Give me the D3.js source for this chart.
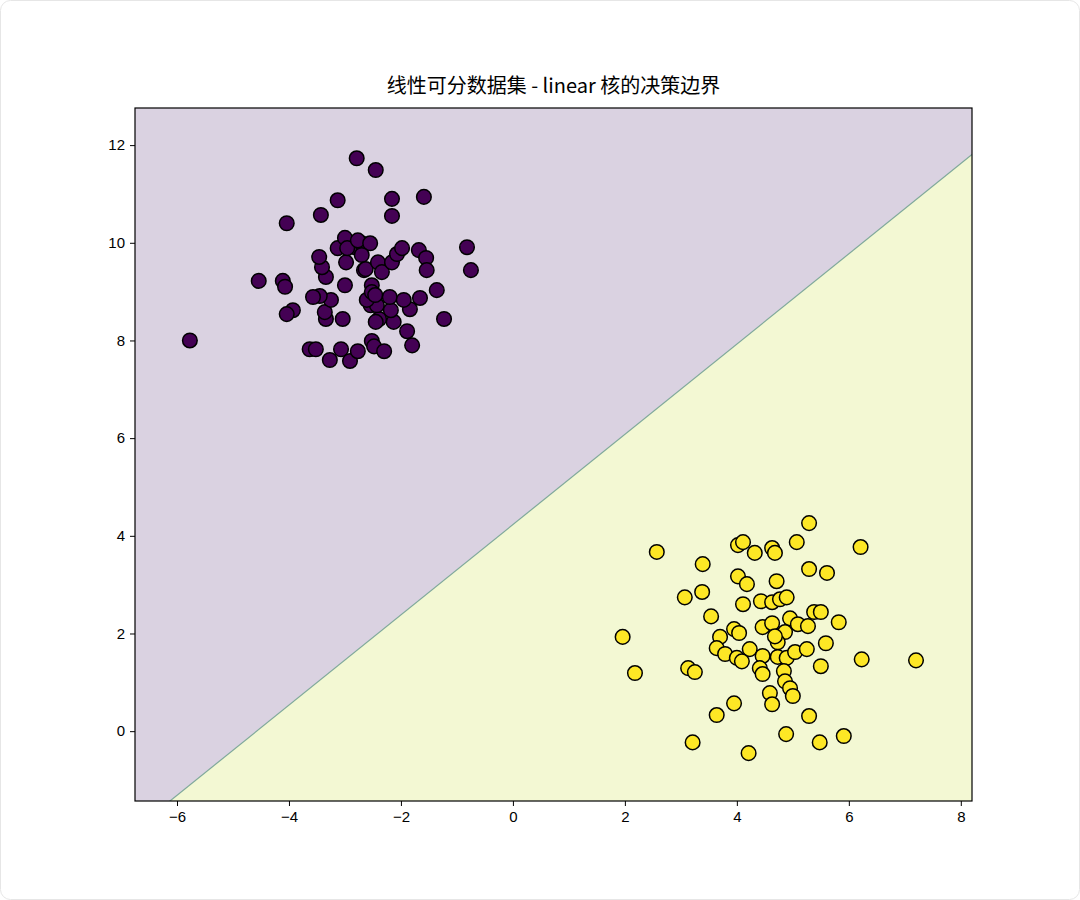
<!DOCTYPE html>
<html><head><meta charset="utf-8">
<script src="https://cdn.jsdelivr.net/npm/d3@7"></script>
<style>body{margin:0;background:#fff}svg{display:block}</style>
</head><body><svg id="c"></svg>
<script>
const classA = [[-5.77,8.0],[-2.79,11.73],[-2.45,11.49],[-3.13,10.87],[-3.43,10.57],[-4.04,10.40],[-2.16,10.9],[-1.59,10.94],[-2.16,10.55],[-0.82,9.91],[-0.75,9.44],[-4.54,9.22],[-4.11,9.22],[-4.07,9.1],[-3.93,8.62],[-4.04,8.54],[-1.36,9.03],[-1.23,8.44],[-1.84,8.64],[-1.66,8.87],[-1.89,8.19],[-1.8,7.9],[-3.63,7.82],[-3.52,7.82],[-3.27,7.6],[-3.07,7.82],[-2.91,7.58],[-2.77,7.78],[-2.52,7.99],[-2.48,7.88],[-2.3,7.78],[-2.13,8.38],[-2.18,8.62],[-2.39,8.44],[-2.45,8.38],[-2.54,8.72],[-2.43,8.72],[-2.61,8.83],[-2.2,8.89],[-1.95,8.83],[-3.34,8.44],[-3.36,8.58],[-3.04,8.44],[-3.25,8.83],[-3.45,8.91],[-3.57,8.89],[-3.34,9.3],[-3.41,9.5],[-3.46,9.71],[-3.0,9.13],[-2.52,9.13],[-2.98,9.6],[-3.13,9.89],[-2.82,9.91],[-3.0,10.1],[-2.96,9.89],[-2.7,9.99],[-2.77,10.05],[-2.55,9.99],[-2.7,9.75],[-2.66,9.44],[-2.63,9.46],[-2.41,9.6],[-2.34,9.4],[-2.16,9.6],[-2.07,9.77],[-1.98,9.89],[-1.68,9.85],[-1.55,9.69],[-1.54,9.44],[-2.52,8.99],[-2.46,8.93]];
const classB = [[5.29,4.26],[2.57,3.67],[3.39,3.42],[4.02,3.81],[4.11,3.87],[4.32,3.65],[4.63,3.75],[4.68,3.65],[5.07,3.87],[6.21,3.77],[5.29,3.32],[5.61,3.24],[4.02,3.17],[4.18,3.01],[4.71,3.07],[3.07,2.74],[3.38,2.85],[4.11,2.6],[4.43,2.66],[4.63,2.64],[4.77,2.7],[4.89,2.74],[3.54,2.35],[5.38,2.44],[5.5,2.44],[5.82,2.23],[4.95,2.31],[5.09,2.19],[5.27,2.15],[4.46,2.13],[4.63,2.21],[4.86,2.03],[4.73,1.82],[4.68,1.94],[1.96,1.93],[3.95,2.09],[4.04,2.01],[3.7,1.93],[3.64,1.7],[3.79,1.58],[4.23,1.68],[4.0,1.5],[4.09,1.43],[4.46,1.54],[4.73,1.52],[4.89,1.5],[5.04,1.62],[5.25,1.68],[5.59,1.8],[5.5,1.33],[6.23,1.47],[7.2,1.45],[2.18,1.19],[3.13,1.29],[3.25,1.21],[4.41,1.29],[4.46,1.17],[4.84,1.23],[4.86,1.02],[4.95,0.88],[5.0,0.72],[4.59,0.78],[4.63,0.55],[3.95,0.57],[3.64,0.33],[5.29,0.31],[3.21,-0.23],[4.21,-0.45],[4.88,-0.06],[5.48,-0.23],[5.91,-0.1]];
// decision boundary y = slope * x + intercept
const slope = 0.924, intercept = 4.23;
const xTicks = [-6, -4, -2, 0, 2, 4, 6, 8];
const yTicks = [0, 2, 4, 6, 8, 10, 12];
const title = "线性可分数据集 - linear 核的决策边界";

const width = 1080, height = 900;
const marginTop = 108, marginRight = 108, marginBottom = 99, marginLeft = 135;

const svg = d3.select("#c").attr("width", width).attr("height", height)
  .style("font-family", "'Noto Sans CJK SC', 'Noto Sans', sans-serif");

svg.append("rect").attr("x", 0.5).attr("y", 0.5).attr("width", width - 1).attr("height", height - 1)
  .attr("rx", 10).attr("fill", "#fff").attr("stroke", "#e6e6e6");

const x = d3.scaleLinear().domain([-6.75, 8.2]).range([marginLeft, width - marginRight]);
const y = d3.scaleLinear().domain([-1.43, 12.76]).range([height - marginBottom, marginTop]);
const [x0, x1] = x.domain(), [y0, y1] = y.domain();
const f = v => slope * v + intercept;

svg.append("defs").append("clipPath").attr("id", "clip").append("rect")
  .attr("x", x(x0)).attr("y", y(y1)).attr("width", x(x1) - x(x0)).attr("height", y(y0) - y(y1));
const plot = svg.append("g").attr("clip-path", "url(#clip)");

// regions: above line = class A, below = class B
plot.append("path").attr("fill", "#dad2e1")
  .attr("d", d3.line()([[x(x0), y(y1)], [x(x1), y(y1)], [x(x1), y(f(x1))], [x(x0), y(f(x0))]]));
plot.append("path").attr("fill", "#f3f8d3")
  .attr("d", d3.line()([[x(x0), y(f(x0))], [x(x1), y(f(x1))], [x(x1), y(y0)], [x(x0), y(y0)]]));
plot.append("line").attr("x1", x(x0)).attr("y1", y(f(x0))).attr("x2", x(x1)).attr("y2", y(f(x1)))
  .attr("stroke", "#7fa89a").attr("stroke-width", 1.2);

const pts = [...classA.map(d => [d, "#440154"]), ...classB.map(d => [d, "#fde725"])];
plot.append("g").selectAll("circle").data(pts).join("circle")
  .attr("cx", d => x(d[0][0])).attr("cy", d => y(d[0][1])).attr("r", 7.3)
  .attr("fill", d => d[1]).attr("stroke", "#000").attr("stroke-width", 1.5);

svg.append("rect").attr("x", x(x0)).attr("y", y(y1)).attr("width", x(x1) - x(x0)).attr("height", y(y0) - y(y1))
  .attr("fill", "none").attr("stroke", "#000").attr("stroke-width", 1.2);

const fmt = d => d < 0 ? "\u2212" + Math.abs(d) : d;
svg.append("g").attr("transform", `translate(0,${height - marginBottom})`)
  .call(d3.axisBottom(x).tickValues(xTicks).tickFormat(fmt).tickSize(5).tickPadding(5))
  .call(g => g.select(".domain").remove())
  .call(g => g.selectAll("text").attr("font-size", 15).attr("fill", "#000"));
svg.append("g").attr("transform", `translate(${marginLeft},0)`)
  .call(d3.axisLeft(y).tickValues(yTicks).tickFormat(fmt).tickSize(5).tickPadding(5))
  .call(g => g.select(".domain").remove())
  .call(g => g.selectAll("text").attr("font-size", 15).attr("fill", "#000"));

svg.append("text").attr("x", (x(x0) + x(x1)) / 2).attr("y", 93).attr("text-anchor", "middle")
  .attr("font-size", 20).text(title);
</script></body></html>
